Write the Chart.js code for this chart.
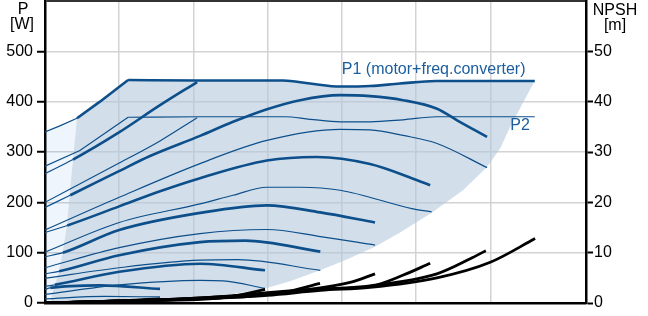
<!DOCTYPE html>
<html>
<head>
<meta charset="utf-8">
<title>Pump power and NPSH curves</title>
<script src="https://cdn.jsdelivr.net/npm/chart.js@4"></script>
<style>
body{margin:0;background:#fff}
#wrap{position:relative;width:648px;height:316px}
</style>
</head>
<body>
<div id="wrap"><canvas id="pumpChart"></canvas></div>
<script>
/* ====================================
   DATA (flow on x, power W on left, NPSH m on right)
==================================== */

// P1 curves (motor + freq. converter), thick lines
const qT1=[0,0.2,0.431,0.74,1.12]
const pT1=[340,352,367,400,443]
const qCap1=[1.12,2.05,3.21,3.57,3.98,4.38,4.78,5.27,6.6]
const pCap1=[443,442,442,436,430,431,436,441,441]
const qTA=[0,0.377,0.997,1.55,2.05]
const pTA=[257,285,339,393,439]
const qT3=[0,0.34,0.997,1.415,2.089,2.534,2.992,3.437,3.976,4.38,4.825,5.283,5.553,5.957]
const pT3=[190,214,262,292,332,360,385,403,413,411,403,386,363,330]
const qT4=[0,0.3,1.0,1.55,2.089,2.99,3.66,4.38,4.96,5.19]
const pT4=[140,154,192,222,248,283,290,276,247,234]
const qT5=[0,0.24,1.0,2.089,2.99,3.71,4.447]
const pT5=[92,100,145,179,194,180,160]
const qT6=[0,0.19,1.0,2.089,2.7,3.71]
const pT6=[58,63,95,121,124,102]
const qT7=[0,0.13,1.0,2.089,2.965]
const pT7=[33,36,62,78,65]
const qT8=[0,0.07,0.74,1.55]
const pT8=[27,30,35,28]

// P2 curves (shaft power), thin lines
const qP21=[0,0.47,1.12]
const pP21=[272,303,369]
const qCap2=[1.12,2.09,3.23,3.57,3.98,4.38,4.82,5.28,6.6]
const pCap2=[369,370,370,365,360,360,364,370,370]
const qP2A=[0,1.0,1.55,2.05]
const pP2A=[200,278,322,368]
const qP23=[0,1.0,2.089,2.99,3.976,4.38,4.825,5.283,5.957]
const pP23=[145,210,277,323,345,344,333,317,269]
const qP24=[0,1.0,2.089,2.534,2.99,3.44,3.976,4.96,5.21]
const pP24=[101,160,197,214,230,230,224,187,181]
const qP25=[0,1.0,2.089,2.99,3.71,4.447]
const pP25=[70,110,138,146,132,115]
const qP26=[0,1.0,2.089,2.6,3.71]
const pP26=[49,70,85,86,65]
const qP27=[0,1.0,2.089,2.4,2.965]
const pP27=[17,36,45,44,29]
const qP28=[0,0.8,1.55]
const pP28=[8,13,12]

// NPSH curves (right axis)
const qN1=[0,1.0,2.09,2.99,3.71,4.38,5.28,6.0,6.604]
const nN1=[0,0.4,0.84,1.5,2.5,3.1,5.0,8.1,12.8]
const qN2=[0,2.09,3.71,4.38,5.28,5.73,5.94]
const nN2=[0,0.9,2.7,3.4,5.8,8.8,10.4]
const qN3=[0,2.09,3.71,4.38,4.82,5.19]
const nN3=[0,1.0,2.8,3.3,5.5,7.9]
const qN4=[0,2.09,3.44,4.11,4.447]
const nN4=[0,1.0,2.5,4.1,5.8]
const qN5=[0,1.5,2.76,3.21,3.706]
const nN5=[0,0.6,1.3,2.1,3.9]
const qN6=[0,1.0,2.09,2.53,2.965]
const nN6=[0,0.4,0.7,1.3,2.7]
const qN7=[0,0.8,1.55]
const nN7=[0,0.3,0.8]

// operating area (shaded) and low-flow area (light)
const qArea=[0.431,0.74,1.12,2.05,3.21,3.57,3.98,4.38,4.78,5.27,6.6,6.429,6.267,6.132,5.957,5.633,5.216,4.784,4.447,4.043,3.706,3.302,2.965,2.493,2.089,1.55,0.741,0.067,0.108,0.175,0.229,0.296,0.337,0.377]
const pArea=[367,400,443,442,442,436,430,431,436,441,441,395,349,307,270,224,180,140,112,85,65,43,29,17,11,7,3,0,25,55,94,154,224,284]
const qLow=[0,0.2,0.431,0.377,0.337,0.296,0.229,0.175,0.108,0.067,0]
const pLow=[340,352,367,284,224,154,94,55,25,5,0]

// text labels
const curveLabels=["P1 (motor+freq.converter)","P2"]
const labelQ=[4.0,6.27]
const labelP=[455,343]

// axes
const xMax=7.29
const pMax=600
const npshMax=60


/* ====================================
   HELPERS
==================================== */

const BLUE="#0d4f8b"
const FONT='"Liberation Sans", Arial, sans-serif'

function pts(qs,vs){
return qs.map((q,i)=>({x:q,y:vs[i]}))
}

// thick P1 line, thin for the first segments (inside the light low-flow strip)
function p1Line(q,p,thin=1,mode="monotone"){
return {data:pts(q,p),yAxisID:"y",borderColor:BLUE,borderWidth:2.6,
segment:{borderWidth:c=>c.p0DataIndex<thin?1.2:2.6},
pointRadius:0,cubicInterpolationMode:mode,tension:0,fill:false,order:2}
}

function p2Line(q,p,mode="monotone"){
return {data:pts(q,p),yAxisID:"y",borderColor:BLUE,borderWidth:1.2,
pointRadius:0,cubicInterpolationMode:mode,tension:0,fill:false,order:2}
}

function npshLine(q,n){
return {data:pts(q,n),yAxisID:"y2",borderColor:"#000",borderWidth:2.8,
pointRadius:0,cubicInterpolationMode:"monotone",fill:false,order:1}
}

function area(q,p,color){
return {data:pts(q,p),yAxisID:"y",borderWidth:0,borderColor:"transparent",
backgroundColor:color,pointRadius:0,tension:0,fill:"shape",order:5}
}

// no extra label padding, so the plot area fills the frame
function noPad(s){
s.paddingTop=0
s.paddingBottom=0
s.paddingLeft=0
s.paddingRight=0
}


/* ====================================
   TEXT PLUGIN (axis titles + curve labels)
==================================== */

const textPlugin={
id:"texts",
afterDraw(chart){
const ctx=chart.ctx
const x=chart.scales.x
const y=chart.scales.y
ctx.save()
ctx.font="16px "+FONT
ctx.textBaseline="alphabetic"

// axis titles
ctx.fillStyle="#000"
ctx.textAlign="center"
ctx.fillText("P",23,13.5)
ctx.fillText("[W]",22,29)
ctx.fillText("NPSH",615,15)
ctx.fillText("[m]",615,30)

// curve labels
ctx.fillStyle="#1b5e9e"
ctx.textAlign="left"
curveLabels.forEach((t,i)=>{
ctx.fillText(t,x.getPixelForValue(labelQ[i]),y.getPixelForValue(labelP[i]))
})
ctx.restore()
}
}


/* ====================================
   DRAW CHART
==================================== */

Chart.defaults.font.family=FONT
Chart.defaults.font.size=16
Chart.defaults.color="#000"

new Chart(document.getElementById("pumpChart"),{

type:"line",

data:{
datasets:[
npshLine(qN1,nN1),npshLine(qN2,nN2),npshLine(qN3,nN3),npshLine(qN4,nN4),
npshLine(qN5,nN5),npshLine(qN6,nN6),npshLine(qN7,nN7),
p1Line(qT1,pT1,2,"default"),p1Line(qCap1,pCap1,0),p1Line(qTA,pTA),p1Line(qT3,pT3),p1Line(qT4,pT4),
p1Line(qT5,pT5),p1Line(qT6,pT6),p1Line(qT7,pT7),p1Line(qT8,pT8),
p2Line(qP21,pP21,"default"),p2Line(qCap2,pCap2),p2Line(qP2A,pP2A),p2Line(qP23,pP23),p2Line(qP24,pP24),
p2Line(qP25,pP25),p2Line(qP26,pP26),p2Line(qP27,pP27),p2Line(qP28,pP28),
area(qArea,pArea,"rgba(178,198,218,0.58)"),
area(qLow,pLow,"rgba(12,112,212,0.07)")
]
},

options:{
responsive:true,
maintainAspectRatio:false,
animation:false,
layout:{padding:{top:1,left:0,right:0,bottom:0}},
plugins:{legend:{display:false},tooltip:{enabled:false}},

scales:{
x:{
type:"linear",min:0,max:xMax,
ticks:{display:false,stepSize:1},
grid:{color:"#d3d3d3",lineWidth:1.5,drawTicks:false},
border:{color:"#000",width:2.5},
afterFit(s){noPad(s);s.height=13}
},
y:{
position:"left",min:0,max:pMax,
ticks:{stepSize:100,padding:4,callback:v=>v===pMax?"":v},
grid:{
color:c=>c.tick&&c.tick.value===pMax?"#333":"#d3d3d3",
lineWidth:c=>c.tick&&c.tick.value===pMax?2:1.5,
tickColor:c=>c.tick&&c.tick.value===pMax?"transparent":"#000",
tickLength:8,tickWidth:2
},
border:{color:"#000",width:2.5},
afterFit(s){noPad(s);s.width=45}
},
y2:{
position:"right",min:0,max:npshMax,
ticks:{stepSize:10,padding:1,callback:v=>v===npshMax?"":v},
grid:{
drawOnChartArea:false,
tickColor:c=>c.tick&&c.tick.value===npshMax?"transparent":"#000",
tickLength:7,tickWidth:2
},
border:{color:"#000",width:2.5},
afterFit(s){noPad(s);s.width=62}
}
}
},

plugins:[textPlugin]

})
</script>
</body>
</html>
